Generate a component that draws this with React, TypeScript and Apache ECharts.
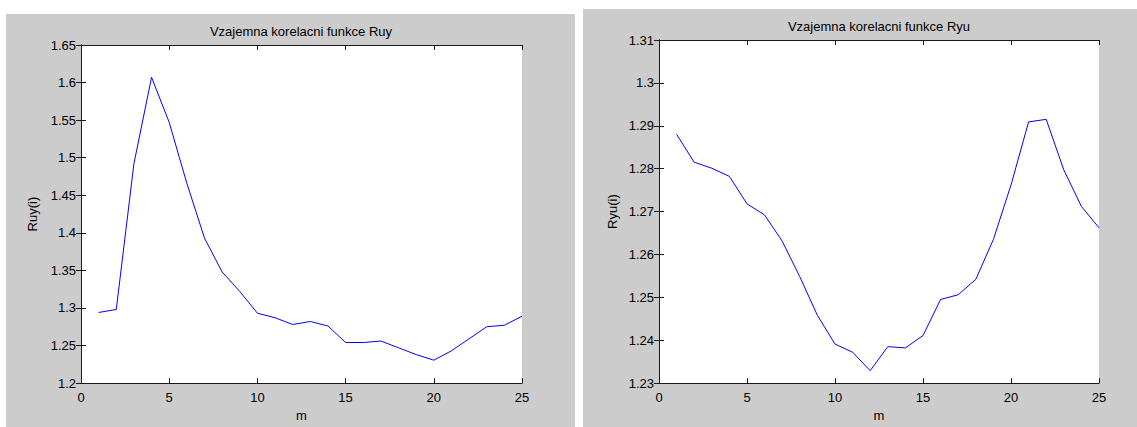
import { useEffect, useRef } from "react";
import * as echarts from "echarts";

// Lag index m
const lags = [1, 2, 3, 4, 5, 6, 7, 8, 9, 10, 11, 12, 13, 14, 15, 16, 17, 18, 19, 20, 21, 22, 23, 24, 25];

// Cross-correlation Ruy
const ruy = [
  1.294, 1.298, 1.492, 1.607, 1.547, 1.466, 1.393, 1.348, 1.322, 1.293,
  1.287, 1.278, 1.282, 1.276, 1.254, 1.254, 1.256, 1.247, 1.238, 1.2305,
  1.243, 1.259, 1.275, 1.277, 1.289,
];

// Cross-correlation Ryu
const ryu = [
  1.288, 1.2815, 1.2801, 1.2782, 1.2718, 1.2692, 1.2631, 1.2548, 1.2458, 1.2391,
  1.2372, 1.2329, 1.2385, 1.2382, 1.2411, 1.2495, 1.2506, 1.2542, 1.2635, 1.2762,
  1.2909, 1.2915, 1.2797, 1.2712, 1.2662,
];

const titles = ["Vzajemna korelacni funkce Ruy", "Vzajemna korelacni funkce Ryu"];
const yNames = ["Ruy(i)", "Ryu(i)"];
const xName = "m";

// Axis ranges: [min, max, interval]
const xRange = [0, 25, 5];
const ruyRange = [1.2, 1.65, 0.05];
const ryuRange = [1.23, 1.31, 0.01];

const FONT = '"Liberation Sans", Arial, sans-serif';
const FRAME = "#1a1a1a";

function fmt(v: number) {
  return String(+v.toFixed(2));
}

export default function App() {
  const ref = useRef<HTMLDivElement>(null);

  useEffect(() => {
    if (!ref.current) return;
    const chart = echarts.init(ref.current, undefined, { renderer: "svg" });

    const grids = [
      { left: 81, top: 45, width: 441, height: 345 },
      { left: 659, top: 40, width: 440, height: 347 },
    ];
    const yRanges = [ruyRange, ryuRange];
    const yGaps = [42, 40];

    const xAxes: any[] = [];
    const yAxes: any[] = [];
    grids.forEach((_, gi) => {
      const common = {
        gridIndex: gi,
        type: "value",
        axisLine: { show: true, lineStyle: { color: FRAME, width: 1 } },
        axisTick: { show: true, inside: true, length: 5, lineStyle: { color: FRAME } },
        splitLine: { show: false },
      };
      xAxes.push({
        ...common,
        position: "bottom",
        min: xRange[0],
        max: xRange[1],
        interval: xRange[2],
        name: xName,
        nameLocation: "middle",
        nameGap: 25,
        nameTextStyle: { color: "#000", fontSize: 13, fontFamily: FONT },
        axisLabel: { color: "#000", fontSize: 13, fontFamily: FONT, margin: 8 },
      });
      xAxes.push({
        ...common,
        position: "top",
        min: xRange[0],
        max: xRange[1],
        interval: xRange[2],
        axisLabel: { show: false },
      });
      const yr = yRanges[gi];
      yAxes.push({
        ...common,
        position: "left",
        min: yr[0],
        max: yr[1],
        interval: yr[2],
        name: yNames[gi],
        nameLocation: "middle",
        nameGap: yGaps[gi],
        nameTextStyle: { color: "#000", fontSize: 13, fontFamily: FONT },
        axisLabel: {
          color: "#000",
          fontSize: 13,
          fontFamily: FONT,
          margin: 5,
          formatter: (v: number) => fmt(v),
        },
      });
      yAxes.push({
        ...common,
        position: "right",
        min: yr[0],
        max: yr[1],
        interval: yr[2],
        axisLabel: { show: false },
      });
    });

    const seriesData = [ruy, ryu];

    chart.setOption({
      animation: false,
      backgroundColor: "#ffffff",
      grid: grids.map((g) => ({
        ...g,
        show: true,
        backgroundColor: "#ffffff",
        borderWidth: 0,
      })),
      xAxis: xAxes,
      yAxis: yAxes,
      graphic: [
        {
          type: "rect",
          z: -100,
          shape: { x: 6, y: 14, width: 569, height: 413 },
          style: { fill: "#cccccc" },
        },
        {
          type: "rect",
          z: -100,
          shape: { x: 583, y: 9, width: 554, height: 418 },
          style: { fill: "#cccccc" },
        },
        {
          type: "text",
          x: 301,
          y: 25,
          style: {
            text: titles[0],
            font: `13px ${FONT}`,
            fill: "#000",
            align: "center",
            verticalAlign: "top",
            textAlign: "center",
            textVerticalAlign: "top",
          },
        },
        {
          type: "text",
          x: 879,
          y: 20,
          style: {
            text: titles[1],
            font: `13px ${FONT}`,
            fill: "#000",
            align: "center",
            verticalAlign: "top",
            textAlign: "center",
            textVerticalAlign: "top",
          },
        },
      ],
      series: seriesData.map((vals, gi) => ({
        type: "line",
        xAxisIndex: gi * 2,
        yAxisIndex: gi * 2,
        data: lags.map((m, i) => [m, vals[i]]),
        showSymbol: false,
        symbol: "none",
        lineStyle: { color: "#0000ff", width: 1 },
        clip: true,
      })),
    });

    return () => chart.dispose();
  }, []);

  return (
    <div
      ref={ref}
      style={{ position: "fixed", left: 0, top: 0, width: 1137, height: 427 }}
    />
  );
}
